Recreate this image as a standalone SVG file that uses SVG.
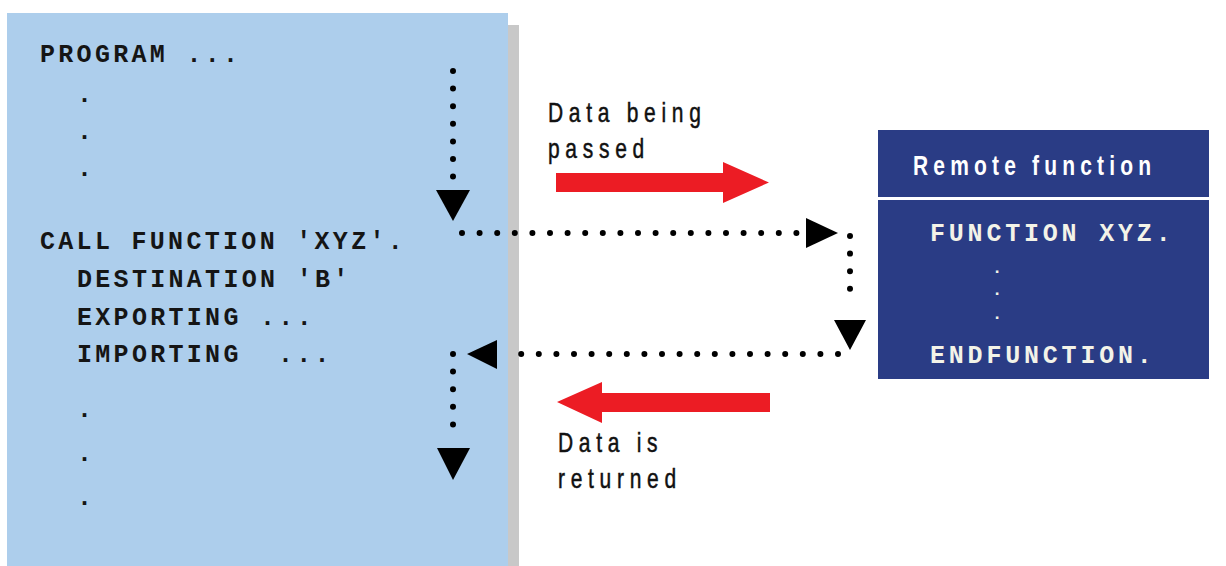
<svg xmlns="http://www.w3.org/2000/svg" width="1226" height="566" viewBox="0 0 1226 566">
<defs>
<style>
.mono{font-family:"Liberation Mono","DejaVu Sans Mono",monospace;font-weight:bold;font-size:25px;letter-spacing:3.3px}
.dark{fill:#151515}
.light{fill:#F3F3E8;letter-spacing:3.8px}
.sdot{font-size:17px}
.lbl{font-family:"Liberation Sans",Arial,sans-serif;font-size:28px;letter-spacing:7.6px;fill:#111;stroke:#111;stroke-width:0.5}
.hdr{font-family:"Liberation Sans",Arial,sans-serif;font-size:28px;font-weight:bold;letter-spacing:6.9px;fill:#fff}
.dots{fill:none;stroke:#000;stroke-width:6;stroke-linecap:round;stroke-dasharray:0 17.6}
.head{fill:#000}
.red{fill:#EC1C24}
</style>
</defs>
<rect width="1226" height="566" fill="#fff"/>

<g id="program">
  <rect x="508" y="25" width="11" height="541" fill="#C8C8C8"/>
  <rect x="7" y="13" width="501" height="553" fill="#ADCEEC"/>
  <g class="mono dark">
    <text x="40" y="62">PROGRAM ...</text>
    <text x="77" y="102">.</text>
    <text x="77" y="139">.</text>
    <text x="77" y="176">.</text>
    <text x="40" y="249">CALL FUNCTION 'XYZ'.</text>
    <text x="77" y="287">DESTINATION 'B'</text>
    <text x="77" y="325">EXPORTING ...</text>
    <text x="77" y="362">IMPORTING<tspan x="278">...</tspan></text>
    <text x="77" y="417">.</text>
    <text x="77" y="461">.</text>
    <text x="77" y="505">.</text>
  </g>
</g>

<g id="remote">
  <rect x="878" y="130" width="331" height="249" fill="#2A3C85"/>
  <line x1="878" y1="198.5" x2="1209" y2="198.5" stroke="#fff" stroke-width="3"/>
  <text class="hdr" transform="translate(913,175) scale(0.75,1)">Remote function</text>
  <g class="mono light">
    <text x="930" y="241">FUNCTION XYZ.</text>
    <text class="sdot" x="992" y="273">.</text>
    <text class="sdot" x="992" y="295">.</text>
    <text class="sdot" x="992" y="319">.</text>
    <text x="930" y="363">ENDFUNCTION.</text>
  </g>
</g>

<g id="label-passed">
  <text class="lbl" transform="translate(548,122) scale(0.75,1)">Data being</text>
  <text class="lbl" transform="translate(548,158) scale(0.75,1)">passed</text>
</g>

<g id="label-returned">
  <text class="lbl" transform="translate(558,452) scale(0.75,1)">Data is</text>
  <text class="lbl" transform="translate(558,488) scale(0.75,1)">returned</text>
</g>

<g id="connectors">
  <path class="dots" d="M453,71 V176.6"/>
  <polygon class="head" points="436,190 470,190 453,221"/>
  <path class="dots" d="M462,233 H796.4"/>
  <polygon class="head" points="806,218 806,248 838,233"/>
  <path class="dots" d="M850,236 V306.4"/>
  <polygon class="head" points="834,320 866,320 850,350"/>
  <path class="dots" d="M838,354 H503.6"/>
  <polygon class="head" points="467,354 497,340 497,369"/>
  <path class="dots" d="M453,354 V442"/>
  <polygon class="head" points="437,448 470,448 453,480"/>
  <path class="red" d="M556,173 H723 V162 L769,182.5 L723,203 V192 H556 Z"/>
  <path class="red" d="M557,402 L602,382 V393 H770 V412 H602 V423 Z"/>
</g>
</svg>
